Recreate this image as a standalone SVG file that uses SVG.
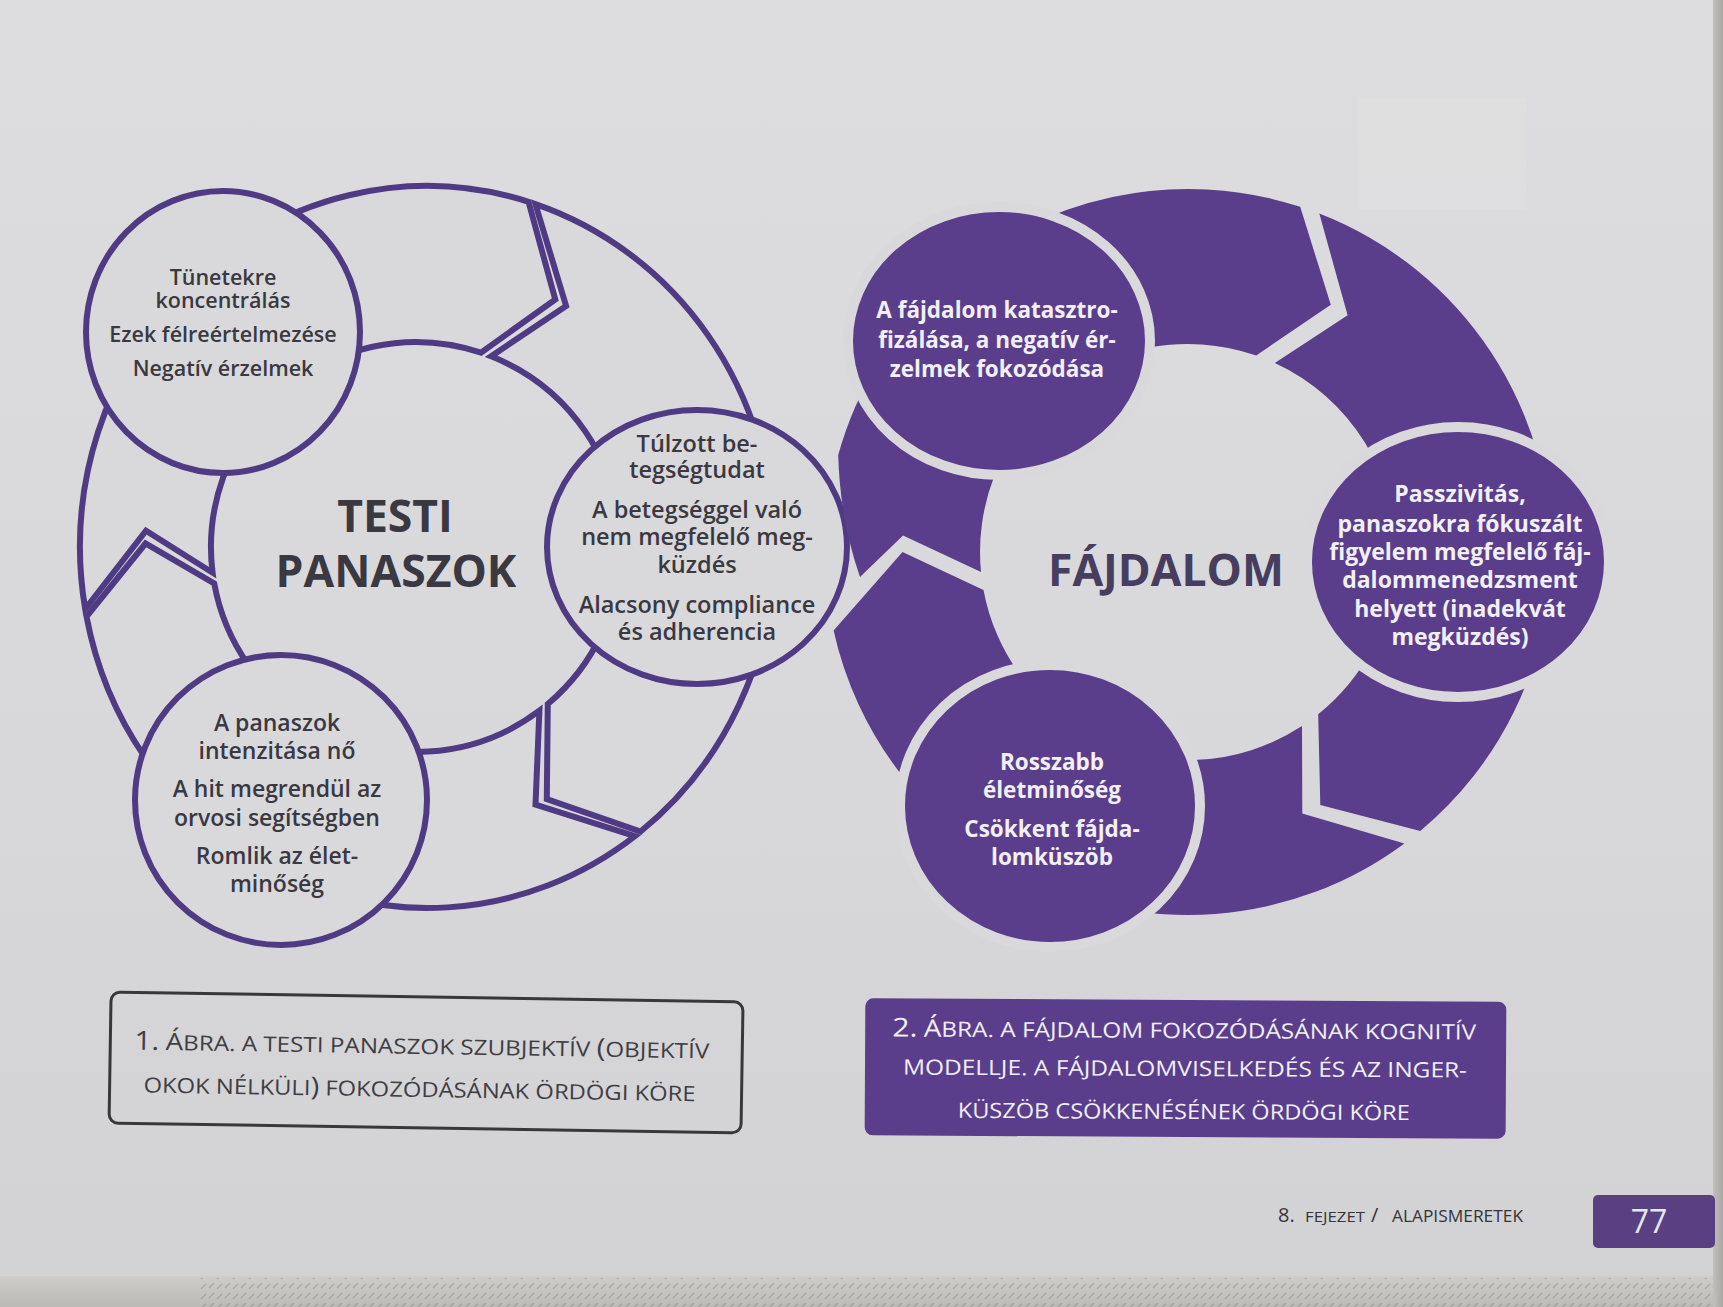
<svg xmlns="http://www.w3.org/2000/svg" width="1723" height="1307" viewBox="0 0 1723 1307">
  <defs>
    <linearGradient id="paper" x1="0" y1="0" x2="0" y2="1">
      <stop offset="0" stop-color="#dddddf"/>
      <stop offset="0.6" stop-color="#d8d8da"/>
      <stop offset="1" stop-color="#d2d2d4"/>
    </linearGradient>
    <linearGradient id="edgeBottom" x1="0" y1="0" x2="0" y2="1">
      <stop offset="0" stop-color="#cfcdca"/>
      <stop offset="1" stop-color="#bcbab6"/>
    </linearGradient>
    <linearGradient id="edgeRight" x1="0" y1="0" x2="1" y2="0">
      <stop offset="0" stop-color="#c2c0bd"/>
      <stop offset="1" stop-color="#a9a7a3"/>
    </linearGradient>
    <pattern id="pageEdges" width="16" height="10" patternUnits="userSpaceOnUse">
      <path d="M1 8 L6 3 M9 9 L14 4" stroke="#8f8c88" stroke-width="1.3" fill="none"/>
    </pattern>
    <style>
      .ring-l { fill: #d9d9db; stroke: #4f3b84; stroke-width: 6; stroke-linejoin: miter; }
      .node-l { fill: #d9d9db; stroke: #4f3b84; stroke-width: 6; }
      .ring-r { fill: #5a3e8c; }
      .node-r { fill: #5a3e8c; stroke: #d9d9db; stroke-width: 10; }
      .txt { font-family: "Open Sans", "Liberation Sans", sans-serif; text-anchor: middle; }
      .dark { fill: #3a3841; font-weight: 600; }
      .light { fill: #f2f0f5; font-weight: 700; }
      .title { font-weight: 700; font-size: 44.5px; }
      .cap { font-family: "Open Sans", "Liberation Sans", sans-serif; font-size: 21px; }
      .foot { font-family: "Open Sans", "Liberation Sans", sans-serif; fill: #353439; }
    </style>
  </defs>

  <!-- page -->
  <rect x="0" y="0" width="1723" height="1307" fill="url(#paper)"/>
  <rect x="1357" y="97" width="170" height="112" fill="#ffffff" opacity="0.06"/>
  <rect x="0" y="1276" width="1723" height="31" fill="url(#edgeBottom)"/>
  <rect x="200" y="1278" width="1523" height="29" fill="url(#pageEdges)" opacity="0.55"/>
  <rect x="1713" y="0" width="10" height="1307" fill="url(#edgeRight)"/>

  <!-- figure 1: outlined cycle -->
  <g id="cycle-testi">
    <g id="testi-connectors">
      <path class="ring-l" d="M190.3 283.0 A347 361 0 0 1 528.5 201.8 L555.3 299.5 L481.0 352.6 A205 205 0 0 0 276.2 397.1 Z"/>
      <path class="ring-l" d="M535.4 204.1 A347 361 0 0 1 774 547 L621 547 A205 205 0 0 0 491.1 356.3 L566.1 306.0 Z"/>
      <path class="ring-l" d="M774 547 A347 361 0 0 1 640.6 831.5 L546.8 799.2 L547.8 704.0 A205 205 0 0 0 621 547 Z"/>
      <path class="ring-l" d="M634.9 836.1 A347 361 0 0 1 253.5 859.6 L313.5 724.5 A205 205 0 0 0 539.4 710.7 L535.5 804.7 Z"/>
      <path class="ring-l" d="M253.5 859.6 A347 361 0 0 1 86.5 616.5 L145.5 543.5 L214.2 583.3 A205 205 0 0 0 313.5 724.5 Z"/>
      <path class="ring-l" d="M85.2 609.1 A347 361 0 0 1 190.3 283.0 L276.2 397.1 A205 205 0 0 0 212.6 572.7 L146.0 530.7 Z"/>
    </g>

    <g id="testi-center">
      <text class="txt dark title"><tspan x="395" y="532">TESTI</tspan><tspan x="396" y="587">PANASZOK</tspan></text>
    </g>

    <g id="testi-node-1">
      <ellipse class="node-l" cx="223" cy="332" rx="137" ry="141"/>
      <text class="txt dark" font-size="21.5"><tspan x="223" y="285">Tünetekre</tspan><tspan x="223" y="308">koncentrálás</tspan><tspan x="223" y="342">Ezek félreértelmezése</tspan><tspan x="223" y="376">Negatív érzelmek</tspan></text>
    </g>

    <g id="testi-node-2">
      <ellipse class="node-l" cx="697" cy="547" rx="150" ry="137"/>
      <text class="txt dark" font-size="23.5"><tspan x="697" y="452">Túlzott be-</tspan><tspan x="697" y="478">tegségtudat</tspan><tspan x="697" y="518">A betegséggel való</tspan><tspan x="697" y="545">nem megfelelő meg-</tspan><tspan x="697" y="573">küzdés</tspan><tspan x="697" y="613">Alacsony compliance</tspan><tspan x="697" y="640">és adherencia</tspan></text>
    </g>

    <g id="testi-node-3">
      <ellipse class="node-l" cx="281" cy="800" rx="146" ry="145"/>
      <text class="txt dark" font-size="23"><tspan x="277" y="731">A panaszok</tspan><tspan x="277" y="759">intenzitása nő</tspan><tspan x="277" y="797">A hit megrendül az</tspan><tspan x="277" y="826">orvosi segítségben</tspan><tspan x="277" y="864">Romlik az élet-</tspan><tspan x="277" y="892">minőség</tspan></text>
    </g>
  </g>

  <!-- figure 2: filled cycle -->
  <g id="cycle-fajdalom">
    <g id="fajdalom-connectors">
      <path class="ring-r" d="M945.1 282.2 A363 363 0 0 1 1300.2 206.8 L1330.8 304.8 L1256.2 355.5 A208 208 0 0 0 1048.8 397.4 Z"/>
      <path class="ring-r" d="M1319.3 213.6 A363 363 0 0 1 1550.8 564.7 L1395.9 559.3 A208 208 0 0 0 1274.8 363.0 L1347.6 315.3 Z"/>
      <path class="ring-r" d="M1550.8 564.7 A363 363 0 0 1 1420.3 830.9 L1320.3 805.0 L1318.2 714.2 A208 208 0 0 0 1395.9 559.3 Z"/>
      <path class="ring-r" d="M1404.4 843.4 A363 363 0 0 1 1017.6 872.5 L1090.4 735.7 A208 208 0 0 0 1302.0 726.0 L1302.3 813.6 Z"/>
      <path class="ring-r" d="M1017.6 872.5 A363 363 0 0 1 833.6 630.6 L902.5 552 L983.5 589.9 A208 208 0 0 0 1090.4 735.7 Z"/>
      <path class="ring-r" d="M860 577 Q840 520 838.2 455.0 A363 363 0 0 1 945.1 282.2 L1048.8 397.4 A208 208 0 0 0 981.0 571.9 L903.0 535.6 Z"/>
    </g>

    <g id="fajdalom-center">
      <text class="txt title" x="1166" y="586" font-size="44" fill="#463d5f">FÁJDALOM</text>
    </g>

    <g id="fajdalom-node-1">
      <ellipse class="node-r" cx="999" cy="341" rx="151" ry="134"/>
      <text class="txt light" font-size="22.5"><tspan x="997" y="318">A fájdalom katasztro-</tspan><tspan x="997" y="348">fizálása, a negatív ér-</tspan><tspan x="997" y="377">zelmek fokozódása</tspan></text>
    </g>

    <g id="fajdalom-node-2">
      <ellipse class="node-r" cx="1458" cy="562" rx="151" ry="135"/>
      <text class="txt light" font-size="23"><tspan x="1460" y="502">Passzivitás,</tspan><tspan x="1460" y="532">panaszokra fókuszált</tspan><tspan x="1460" y="560">figyelem megfelelő fáj-</tspan><tspan x="1460" y="588">dalommenedzsment</tspan><tspan x="1460" y="617">helyett (inadekvát</tspan><tspan x="1460" y="645">megküzdés)</tspan></text>
    </g>

    <g id="fajdalom-node-3">
      <ellipse class="node-r" cx="1050" cy="806" rx="150" ry="141"/>
      <text class="txt light" font-size="22.5"><tspan x="1052" y="770">Rosszabb</tspan><tspan x="1052" y="798">életminőség</tspan><tspan x="1052" y="837">Csökkent fájda-</tspan><tspan x="1052" y="865">lomküszöb</tspan></text>
    </g>
  </g>

  <!-- captions -->
  <g id="caption-1" transform="rotate(0.9 426 1065)">
    <rect x="110" y="997" width="632" height="131" rx="9" fill="none" stroke="#38373b" stroke-width="3"/>
    <text class="cap" fill="#3f3e44" x="134" y="1054" textLength="575" lengthAdjust="spacingAndGlyphs"><tspan font-size="26">1.</tspan> <tspan font-size="24">Á</tspan>BRA. A TESTI PANASZOK SZUBJEKTÍV <tspan font-size="26">(</tspan>OBJEKTÍV</text>
    <text class="cap" fill="#3f3e44" x="144" y="1097" textLength="552" lengthAdjust="spacingAndGlyphs">OKOK NÉLKÜLI<tspan font-size="26">)</tspan> FOKOZÓDÁSÁNAK ÖRDÖGI KÖRE</text>
  </g>

  <g id="caption-2" transform="rotate(0.3 1185 1068)">
    <rect x="865" y="1000" width="641" height="137" rx="8" fill="#5a3e8c"/>
    <text class="cap" fill="#f1eff5" x="892" y="1038" textLength="584" lengthAdjust="spacingAndGlyphs"><tspan font-size="26">2.</tspan> <tspan font-size="24">Á</tspan>BRA. A FÁJDALOM FOKOZÓDÁSÁNAK KOGNITÍV</text>
    <text class="cap" fill="#f1eff5" x="903" y="1076" textLength="564" lengthAdjust="spacingAndGlyphs">MODELLJE. A FÁJDALOMVISELKEDÉS ÉS AZ INGER-</text>
    <text class="cap" fill="#f1eff5" x="958" y="1119" textLength="452" lengthAdjust="spacingAndGlyphs">KÜSZÖB CSÖKKENÉSÉNEK ÖRDÖGI KÖRE</text>
  </g>

  <!-- running footer -->
  <g id="footer">
    <text class="foot" x="1278" y="1222" font-size="20">8.</text>
    <text class="foot" x="1305" y="1222" font-size="15" textLength="60" lengthAdjust="spacingAndGlyphs">FEJEZET</text>
    <text class="foot" x="1371" y="1222" font-size="20">/</text>
    <text class="foot" x="1392" y="1222" font-size="17" textLength="131" lengthAdjust="spacingAndGlyphs">ALAPISMERETEK</text>
    <rect x="1593" y="1195" width="122" height="53" rx="5" fill="#584083"/>
    <text class="txt" x="1649" y="1233" font-size="32" fill="#e9e6ee">77</text>
  </g>
</svg>
